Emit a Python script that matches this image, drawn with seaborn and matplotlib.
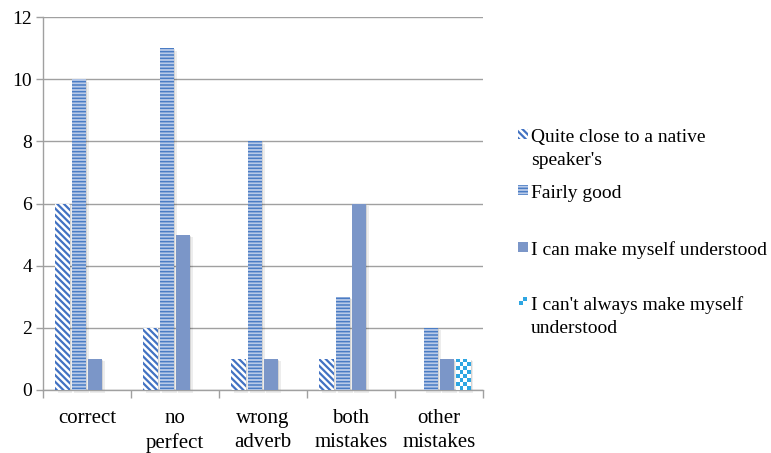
import numpy as np
import pandas as pd
import matplotlib
matplotlib.use("Agg")
import matplotlib.pyplot as plt
import matplotlib.transforms as mtransforms
from matplotlib.patches import Rectangle
import seaborn as sns

# ---- data -------------------------------------------------------------
categories = ["correct", "no\nperfect", "wrong\nadverb", "both\nmistakes", "other\nmistakes"]
series = [
    "Quite close to a native\nspeaker's",
    "Fairly good",
    "I can make myself understood",
    "I can't always make myself\nunderstood",
]
native_like = [6, 2, 1, 1, 0]
fairly_good = [10, 11, 8, 3, 2]
understood = [1, 5, 1, 6, 1]
not_always = [0, 0, 0, 0, 1]
y_ticks = [0, 2, 4, 6, 8, 10, 12]

# ---- styles -----------------------------------------------------------
face_colors = ["#FFFFFF", "#B9CAE8", "#7B96C8", "#FFFFFF"]
hatch_colors = ["#4272C2", "#4A7CC4", "#7B96C8", "#2EA6E2"]
hatches = ["\\" * 5, "-----", "", ""]
hatch_widths = [1.6, 1.1, 1.0, 1.0]
checker_color = np.array([0x2E, 0xA6, 0xE2]) / 255.0
axis_gray = "#A0A0A0"

sns.set_theme(style="white")
plt.rcParams["font.family"] = "serif"
plt.rcParams["font.serif"] = ["Liberation Serif", "Times New Roman", "DejaVu Serif"]
plt.rcParams["hatch.linewidth"] = 1.1
plt.rcParams["text.color"] = "black"

df = pd.DataFrame({
    "category": categories * len(series),
    "rating": np.repeat(series, len(categories)),
    "count": native_like + fairly_good + understood + not_always,
})

W, H = 771, 453
fig = plt.figure(figsize=(W / 100, H / 100), dpi=100)
ax = fig.add_axes([43 / W, 63 / H, 440 / W, 373 / H])

sns.barplot(
    data=df, x="category", y="count", hue="rating",
    order=categories, hue_order=series, palette=face_colors,
    saturation=1, width=0.74, gap=0.1, errorbar=None,
    linewidth=0, legend=False, ax=ax,
)

ax.set_xlim(-0.5, len(categories) - 0.5)
ax.set_ylim(0, 12)

# per-series fill patterns
for cont, hatch, hcol, hw in zip(ax.containers, hatches, hatch_colors, hatch_widths):
    for p in cont:
        p.set_edgecolor(hcol)
        p.set_linewidth(0)
        p.set_hatch(hatch)
        if hasattr(p, "set_hatch_linewidth"):
            p.set_hatch_linewidth(hw)
        p.set_zorder(3)

# soft drop shadow behind each bar
for off, alpha in [(1, 0.10), (2.5, 0.07)]:
    shadow_tr = mtransforms.offset_copy(ax.transData, fig=fig, x=off, y=-off, units="dots")
    for cont in ax.containers:
        for p in cont:
            if p.get_height() > 0:
                ax.add_patch(Rectangle((p.get_x(), p.get_y()), p.get_width(), p.get_height(),
                                       transform=shadow_tr, facecolor="#000000", alpha=alpha,
                                       linewidth=0, zorder=2.5, clip_on=False))

# checkerboard fill for the last series
fig.canvas.draw()
for p in ax.containers[3]:
    h = p.get_height()
    if h <= 0:
        continue
    x0, w = p.get_x(), p.get_width()
    (px0, py0), (px1, py1) = ax.transData.transform([(x0, 0), (x0 + w, h)])
    ncol = max(2, int(round((px1 - px0) / 4)))
    nrow = max(2, int(round((py1 - py0) / 4)))
    ii, jj = np.indices((nrow, ncol))
    mask = ((ii + jj) % 2 == 0)[..., None]
    img = np.where(mask, checker_color, np.ones(3))
    im = ax.imshow(img, extent=[x0, x0 + w, 0, h], interpolation="nearest",
                   aspect="auto", zorder=3.2)
    im.set_clip_path(p)

ax.set_xlim(-0.5, len(categories) - 0.5)
ax.set_ylim(0, 12)

# axes, grid, ticks
ax.set_axisbelow(True)
ax.yaxis.grid(True, color=axis_gray, linewidth=1)
ax.xaxis.grid(False)
for side in ("top", "right"):
    ax.spines[side].set_visible(False)
for side in ("left", "bottom"):
    ax.spines[side].set_color(axis_gray)
    ax.spines[side].set_linewidth(1)
ax.set_yticks(y_ticks)
ax.set_xticks(np.arange(-0.5, len(categories)), minor=True)
ax.tick_params(axis="y", length=5, width=1, color=axis_gray, labelsize=14,
               labelcolor="black", pad=3, left=True)
ax.tick_params(axis="x", which="major", length=0, labelsize=15,
               labelcolor="black", pad=14)
ax.tick_params(axis="x", which="minor", length=6, width=1, color=axis_gray, bottom=True)
for lbl in ax.get_xticklabels():
    lbl.set_linespacing(1.32)
ax.set_xlabel("")
ax.set_ylabel("")

# legend, drawn in figure pixels
px = lambda x: x / W
py = lambda y: 1 - y / H
legend_rows = [142, 198, 255, 310]
for i, (label, base) in enumerate(zip(series, legend_rows)):
    for k, line in enumerate(label.split("\n")):
        fig.text(px(531), py(base + 23 * k), line, fontsize=14, va="baseline",
                 ha="left", color="black")
    top = base - 13
    if i == 3:
        for (dx, dy) in [(4, 0), (0, 4)]:
            fig.patches.append(Rectangle((px(519 + dx), py(top + 4 + dy)), 4 / W, 4 / H,
                                         transform=fig.transFigure,
                                         facecolor=checker_color, linewidth=0))
    else:
        r = Rectangle((px(518), py(top + 10)), 10 / W, 10 / H,
                      transform=fig.transFigure,
                      facecolor=face_colors[i], edgecolor=hatch_colors[i],
                      hatch=hatches[i], linewidth=0)
        if hasattr(r, "set_hatch_linewidth"):
            r.set_hatch_linewidth(hatch_widths[i])
        fig.patches.append(r)

fig.savefig("out.png", dpi=100)
